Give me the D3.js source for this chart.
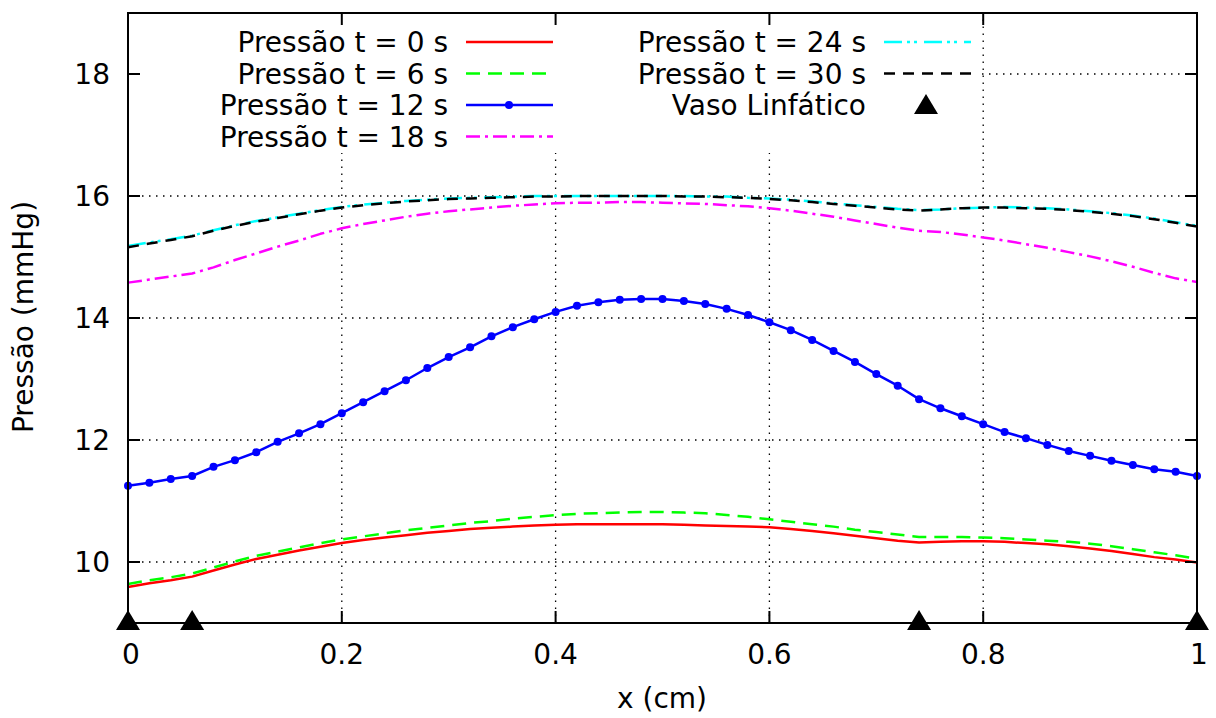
<!DOCTYPE html>
<html>
<head>
<meta charset="utf-8">
<script src="https://cdn.jsdelivr.net/npm/d3@7"></script>
<style>
body { margin: 0; background: #fff; }
svg text { font-family: "DejaVu Sans", sans-serif; font-size: 28px; fill: #000; }
.grid { stroke: #000; stroke-width: 1.3; stroke-dasharray: 1.5,5.5; }
.frame { fill: none; stroke: #000; stroke-width: 2; }
.tick { stroke: #000; stroke-width: 2; }
.curve { fill: none; stroke-width: 2.5; stroke-linejoin: round; }
</style>
</head>
<body>
<svg id="chart" width="1216" height="718"></svg>
<script>
// posicoes ao longo do vaso (cm)
var xs = [0, 0.02, 0.04, 0.06, 0.08, 0.10, 0.12, 0.14, 0.16, 0.18,
	0.20, 0.22, 0.24, 0.26, 0.28, 0.30, 0.32, 0.34, 0.36, 0.38,
	0.40, 0.42, 0.44, 0.46, 0.48, 0.50, 0.52, 0.54, 0.56, 0.58,
	0.60, 0.62, 0.64, 0.66, 0.68, 0.70, 0.72, 0.74, 0.76, 0.78,
	0.80, 0.82, 0.84, 0.86, 0.88, 0.90, 0.92, 0.94, 0.96, 0.98, 1.00];

var p0 = [9.59, 9.65, 9.70, 9.76, 9.86, 9.96, 10.05, 10.12, 10.19, 10.25,
	10.31, 10.36, 10.40, 10.44, 10.48, 10.51, 10.54, 10.56, 10.58, 10.60,
	10.61, 10.62, 10.62, 10.62, 10.62, 10.62, 10.61, 10.60, 10.59, 10.58,
	10.57, 10.54, 10.51, 10.47, 10.43, 10.39, 10.35, 10.32, 10.33, 10.34,
	10.34, 10.33, 10.31, 10.29, 10.26, 10.22, 10.18, 10.13, 10.08, 10.04, 9.99];

var p6 = [9.64, 9.70, 9.75, 9.81, 9.91, 10.01, 10.10, 10.17, 10.24, 10.31,
	10.37, 10.42, 10.47, 10.52, 10.56, 10.60, 10.64, 10.67, 10.71, 10.74,
	10.77, 10.79, 10.80, 10.81, 10.82, 10.82, 10.81, 10.80, 10.77, 10.74,
	10.70, 10.66, 10.62, 10.58, 10.53, 10.49, 10.45, 10.41, 10.41, 10.41,
	10.40, 10.39, 10.37, 10.35, 10.33, 10.30, 10.26, 10.21, 10.16, 10.11, 10.05];

var p12 = [11.25, 11.30, 11.36, 11.41, 11.56, 11.67, 11.80, 11.97, 12.11, 12.26,
	12.44, 12.62, 12.80, 12.98, 13.18, 13.36, 13.52, 13.70, 13.85, 13.98,
	14.10, 14.20, 14.26, 14.30, 14.31, 14.31, 14.28, 14.23, 14.15, 14.05,
	13.93, 13.80, 13.64, 13.46, 13.28, 13.08, 12.89, 12.67, 12.52, 12.39,
	12.26, 12.13, 12.03, 11.92, 11.82, 11.74, 11.66, 11.59, 11.52, 11.48, 11.41];

var p18 = [14.58, 14.63, 14.68, 14.73, 14.83, 14.95, 15.06, 15.17, 15.27, 15.38,
	15.47, 15.54, 15.60, 15.66, 15.71, 15.75, 15.78, 15.81, 15.84, 15.86,
	15.88, 15.89, 15.89, 15.90, 15.90, 15.89, 15.88, 15.87, 15.85, 15.83,
	15.80, 15.76, 15.71, 15.66, 15.60, 15.54, 15.48, 15.43, 15.41, 15.37,
	15.32, 15.27, 15.21, 15.15, 15.08, 15.01, 14.93, 14.84, 14.74, 14.65, 14.59];

var p24 = [15.18, 15.24, 15.29, 15.35, 15.44, 15.52, 15.59, 15.65, 15.71, 15.77,
	15.82, 15.86, 15.89, 15.92, 15.94, 15.96, 15.97, 15.98, 15.99, 16.00,
	16.00, 16.00, 16.00, 16.00, 16.00, 16.00, 16.00, 15.99, 15.99, 15.97,
	15.96, 15.94, 15.91, 15.88, 15.85, 15.82, 15.79, 15.77, 15.78, 15.80,
	15.81, 15.82, 15.81, 15.80, 15.78, 15.75, 15.72, 15.68, 15.63, 15.57, 15.51];

var p30 = [15.16, 15.22, 15.28, 15.34, 15.43, 15.51, 15.58, 15.64, 15.70, 15.76,
	15.81, 15.85, 15.88, 15.91, 15.93, 15.95, 15.96, 15.97, 15.98, 15.99,
	15.99, 16.00, 16.00, 16.00, 16.00, 16.00, 15.99, 15.99, 15.98, 15.97,
	15.95, 15.93, 15.90, 15.87, 15.84, 15.81, 15.78, 15.76, 15.78, 15.80,
	15.81, 15.81, 15.80, 15.79, 15.77, 15.74, 15.71, 15.67, 15.62, 15.56, 15.50];

// vasos linfaticos (cm)
var vasos = [0, 0.06, 0.74, 1];

var xTicks = [0, 0.2, 0.4, 0.6, 0.8, 1];
var yTicks = [10, 12, 14, 16, 18];

var seriesNames = ["Pressão t = 0 s", "Pressão t = 6 s", "Pressão t = 12 s",
	"Pressão t = 18 s", "Pressão t = 24 s", "Pressão t = 30 s"];
var seriesValues = [p0, p6, p12, p18, p24, p30];

var plotLeft = 128, plotRight = 1197, plotTop = 13, plotBottom = 623;
var tickLen = 12;

var styles = [
	{color: "#ff0000", dash: null},
	{color: "#00ff00", dash: "14,8"},
	{color: "#0000ff", dash: null, points: true},
	{color: "#ff00ff", dash: "14,5,3,5"},
	{color: "#00ffff", dash: "18,5,3,4,3,7"},
	{color: "#000000", dash: "11,8"}
];

var svg = d3.select("#chart");

var x = d3.scaleLinear().domain([0, 1]).range([plotLeft, plotRight]);
var y = d3.scaleLinear().domain([9, 19]).range([plotBottom, plotTop]);

// grid
svg.append("g")
.selectAll("line")
.data(xTicks.slice(1, -1))
.join("line")
.attr("class", "grid")
.attr("x1", d => x(d)).attr("x2", d => x(d))
.attr("y1", plotBottom).attr("y2", plotTop);
svg.append("g")
.selectAll("line")
.data(yTicks)
.join("line")
.attr("class", "grid")
.attr("x1", plotLeft).attr("x2", plotRight)
.attr("y1", d => y(d)).attr("y2", d => y(d));

// curves
var line = d3.line()
.x((d, i) => x(xs[i]))
.y(d => y(d));

var gCurves = svg.append("g");
seriesValues.forEach(function(vals, k) {
	var st = styles[k];
	gCurves.append("path")
	.datum(vals)
	.attr("class", "curve")
	.attr("stroke", st.color)
	.attr("stroke-dasharray", st.dash)
	.attr("d", line);
	if (st.points) {
		gCurves.append("g")
		.selectAll("circle")
		.data(vals)
		.join("circle")
		.attr("cx", (d, i) => x(xs[i]))
		.attr("cy", d => y(d))
		.attr("r", 4)
		.attr("fill", st.color);
	}
});

// legend box (opaque, hides the grid)
svg.append("rect")
.attr("x", plotLeft + 1)
.attr("y", plotTop + 1)
.attr("width", 980 - plotLeft)
.attr("height", 152 - plotTop)
.attr("fill", "#fff");

var tri = "M0,-12 L12,8 L-12,8 Z";

var legendRowY = [42, 73.5, 105, 136.5];
var gLegend = svg.append("g");
seriesNames.forEach(function(name, k) {
	var col = k < 4 ? 0 : 1;
	var row = k < 4 ? k : k - 4;
	var textX = col == 0 ? 448 : 866;
	var lineX = col == 0 ? 466 : 884;
	var ly = legendRowY[row];
	var st = styles[k];
	gLegend.append("text")
	.attr("x", textX)
	.attr("y", ly)
	.attr("dy", "0.36em")
	.attr("text-anchor", "end")
	.text(name);
	gLegend.append("line")
	.attr("x1", lineX).attr("x2", lineX + 87)
	.attr("y1", ly).attr("y2", ly)
	.attr("stroke", st.color)
	.attr("stroke-width", 2.5)
	.attr("stroke-dasharray", st.dash);
	if (st.points) {
		gLegend.append("circle")
		.attr("cx", lineX + 43)
		.attr("cy", ly)
		.attr("r", 4)
		.attr("fill", st.color);
	}
});
gLegend.append("text")
.attr("x", 866)
.attr("y", legendRowY[2])
.attr("dy", "0.36em")
.attr("text-anchor", "end")
.text("Vaso Linfático");
gLegend.append("path")
.attr("d", tri)
.attr("transform", "translate(" + [926, legendRowY[2] + 1] + ")")
.attr("fill", "#000");

// frame and ticks
svg.append("rect")
.attr("class", "frame")
.attr("x", plotLeft).attr("y", plotTop)
.attr("width", plotRight - plotLeft).attr("height", plotBottom - plotTop);

var gTicks = svg.append("g");
xTicks.forEach(function(t) {
	gTicks.append("line").attr("class", "tick")
	.attr("x1", x(t)).attr("x2", x(t))
	.attr("y1", plotBottom).attr("y2", plotBottom - tickLen);
	gTicks.append("line").attr("class", "tick")
	.attr("x1", x(t)).attr("x2", x(t))
	.attr("y1", plotTop).attr("y2", plotTop + tickLen);
	gTicks.append("text")
	.attr("x", x(t) + (t == 0 ? 3 : t == 1 ? 2 : 0))
	.attr("y", 664)
	.attr("text-anchor", "middle")
	.text(t);
});
yTicks.forEach(function(t) {
	gTicks.append("line").attr("class", "tick")
	.attr("x1", plotLeft).attr("x2", plotLeft + tickLen)
	.attr("y1", y(t)).attr("y2", y(t));
	gTicks.append("line").attr("class", "tick")
	.attr("x1", plotRight).attr("x2", plotRight - tickLen)
	.attr("y1", y(t)).attr("y2", y(t));
	gTicks.append("text")
	.attr("x", 110)
	.attr("y", y(t))
	.attr("dy", "0.36em")
	.attr("text-anchor", "end")
	.text(t);
});

// vasos linfaticos
svg.append("g")
.selectAll("path")
.data(vasos)
.join("path")
.attr("d", tri)
.attr("transform", d => "translate(" + [x(d), y(9) - 1] + ")")
.attr("fill", "#000");

// axis labels
svg.append("text")
.attr("x", 662)
.attr("y", 708)
.attr("text-anchor", "middle")
.text("x (cm)");
svg.append("text")
.attr("transform", "translate(33,317) rotate(-90)")
.attr("text-anchor", "middle")
.text("Pressão (mmHg)");
</script>
</body>
</html>
